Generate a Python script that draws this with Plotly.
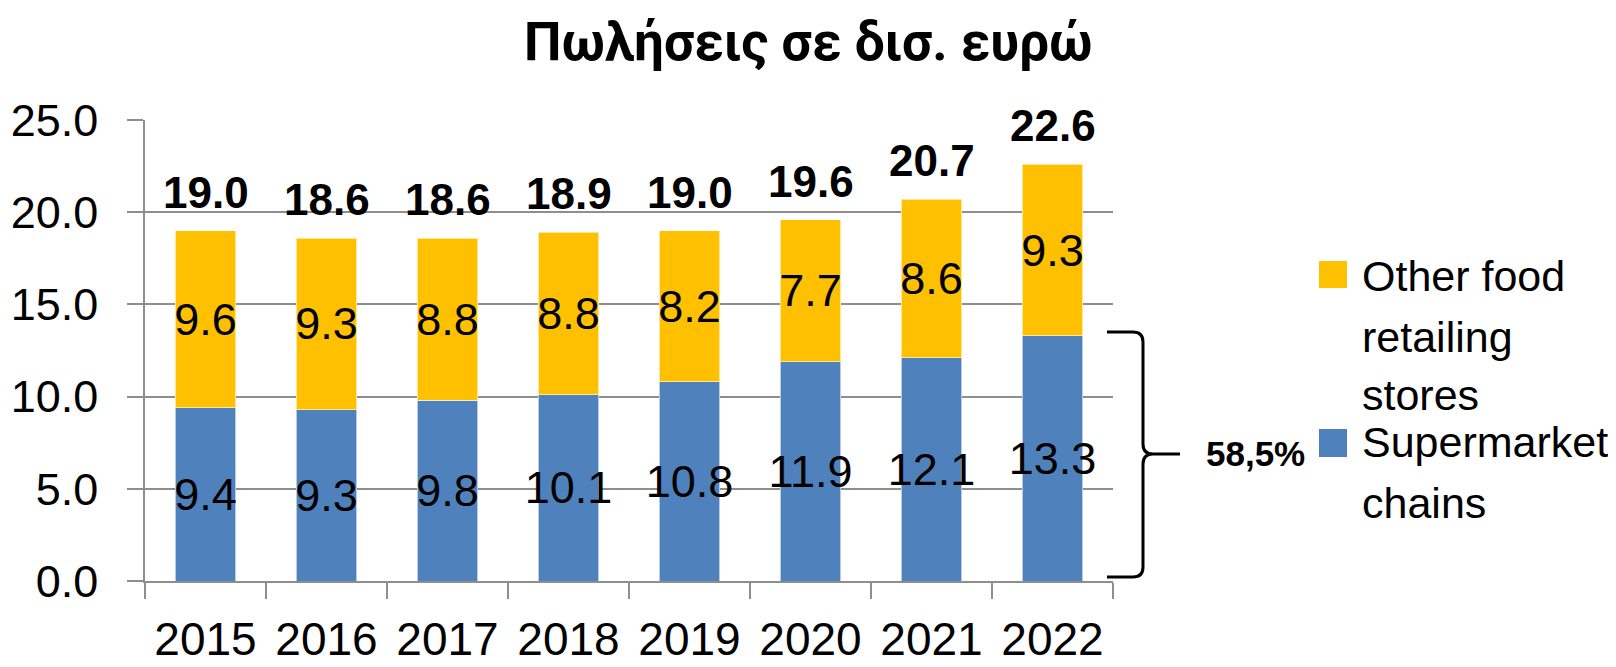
import plotly.graph_objects as go

years = ["2015", "2016", "2017", "2018", "2019", "2020", "2021", "2022"]
supermarket = [9.4, 9.3, 9.8, 10.1, 10.8, 11.9, 12.1, 13.3]
other_food = [9.6, 9.3, 8.8, 8.8, 8.2, 7.7, 8.6, 9.3]
totals = [19.0, 18.6, 18.6, 18.9, 19.0, 19.6, 20.7, 22.6]
y_ticks = [0, 5, 10, 15, 20, 25]
title_text = "Πωλήσεις σε δισ. ευρώ"
share_text = "58,5%"
legend_other = ["Other food", "retailing", "stores"]
legend_super = ["Supermarket", "chains"]

BLUE = "#4F81BD"
YELLOW = "#FFC000"
GRID = "#8E8E8E"
FONT = "Liberation Sans, Arial, sans-serif"

# page offset of the plot div (default body margin)
OFF = 8
PAGE_W, PAGE_H = 1616, 667
W, H = PAGE_W - OFF, PAGE_H - OFF
# plot area in page pixels: x 145..1113, y 120..581
L = 145 - OFF
T = 120 - OFF
R = W - (1113 - OFF)
B = H - (581 - OFF)
PW, PH = W - L - R, H - T - B


def px(x):
    """page pixel x -> paper x"""
    return (x - OFF - L) / PW


def py(y):
    """page pixel y -> paper y"""
    return (H - B - (y - OFF)) / PH


def dy(y):
    """page pixel y -> data y"""
    return py(y) * 25.0


fig = go.Figure()
fig.add_trace(go.Bar(
    x=years, y=supermarket, name="Supermarket chains",
    marker=dict(color=BLUE, line=dict(color="rgba(255,255,255,0.6)", width=1)),
    text=[f"{v:.1f}" for v in supermarket], textposition="inside",
    insidetextanchor="middle", constraintext="none", textangle=0,
    textfont=dict(family=FONT, size=45, color="black"),
    showlegend=False,
))
fig.add_trace(go.Bar(
    x=years, y=other_food, name="Other food retailing stores",
    marker=dict(color=YELLOW, line=dict(color="rgba(255,255,255,0.6)", width=1)),
    text=[f"{v:.1f}" for v in other_food], textposition="inside",
    insidetextanchor="middle", constraintext="none", textangle=0,
    textfont=dict(family=FONT, size=45, color="black"),
    showlegend=False,
))

annotations = []
for i, tot in enumerate(totals):
    annotations.append(dict(
        x=i, y=tot, xref="x", yref="y", text=f"<b>{tot:.1f}</b>",
        showarrow=False, yanchor="bottom", yshift=12,
        font=dict(family=FONT, size=44, color="black"),
    ))

# title
annotations.append(dict(
    x=px(808), y=py(42), xref="paper", yref="paper", text=f"<b>{title_text}</b>",
    showarrow=False, xanchor="center", yanchor="middle",
    font=dict(family="Roboto, Noto Sans, sans-serif", size=53, color="black"),
))

# share label
annotations.append(dict(
    x=px(1255), y=py(453), xref="paper", yref="paper", text=f"<b>{share_text}</b>",
    showarrow=False, xanchor="center", yanchor="middle",
    font=dict(family=FONT, size=35, color="black"),
))

# legend lines
for line, base in zip(legend_other + legend_super, [291, 352, 410, 457, 518]):
    annotations.append(dict(
        x=px(1360), y=py(base - 15), xref="paper", yref="paper", text=line,
        showarrow=False, xanchor="left", yanchor="middle",
        font=dict(family=FONT, size=43, color="black"),
    ))

shapes = [
    dict(type="rect", xref="paper", yref="paper", x0=px(1319), x1=px(1347),
         y0=py(288), y1=py(261), fillcolor=YELLOW, line=dict(width=0)),
    dict(type="rect", xref="paper", yref="paper", x0=px(1319), x1=px(1347),
         y0=py(457), y1=py(429), fillcolor=BLUE, line=dict(width=0)),
]

# curly brace
xl, xv, xt = px(1107), px(1143), px(1180)
xc = px(1133)
xtc = px(1153)
yt, yb, ym = dy(332), dy(577), dy(454)
r = dy(0) - dy(10)
path = (
    f"M {xl},{yt} L {xc},{yt} Q {xv},{yt} {xv},{yt - r} "
    f"L {xv},{ym + r} Q {xv},{ym} {xtc},{ym} L {xt},{ym} "
    f"M {xtc},{ym} Q {xv},{ym} {xv},{ym - r} "
    f"L {xv},{yb + r} Q {xv},{yb} {xc},{yb} L {xl},{yb}"
)
shapes.append(dict(type="path", xref="paper", yref="y", path=path,
                   line=dict(color="black", width=3)))

fig.update_layout(
    barmode="stack", bargap=0.5,
    width=W, height=H,
    margin=dict(l=L, r=R, t=T, b=B, autoexpand=False),
    paper_bgcolor="white", plot_bgcolor="white",
    annotations=annotations, shapes=shapes,
    showlegend=False,
    xaxis=dict(
        type="category", categoryorder="array", categoryarray=years,
        range=[-0.5, len(years) - 0.5], automargin=False,
        tickson="boundaries", ticks="outside", ticklen=16, tickangle=0,
        tickcolor=GRID, tickwidth=1.5, showline=True, linecolor=GRID, linewidth=1.5,
        showgrid=False, ticklabelstandoff=17,
        tickfont=dict(family=FONT, size=46, color="black"),
    ),
    yaxis=dict(
        range=[0, 25], tickvals=y_ticks, ticktext=[f"{v:.1f}" for v in y_ticks],
        automargin=False,
        ticks="outside", ticklen=16, tickcolor=GRID, tickwidth=1.5,
        showline=True, linecolor=GRID, linewidth=1.5,
        showgrid=True, gridcolor=GRID, gridwidth=1.5, zeroline=False,
        ticklabelstandoff=20,
        tickfont=dict(family=FONT, size=45, color="black"),
    ),
)

fig.write_html("out.html")
